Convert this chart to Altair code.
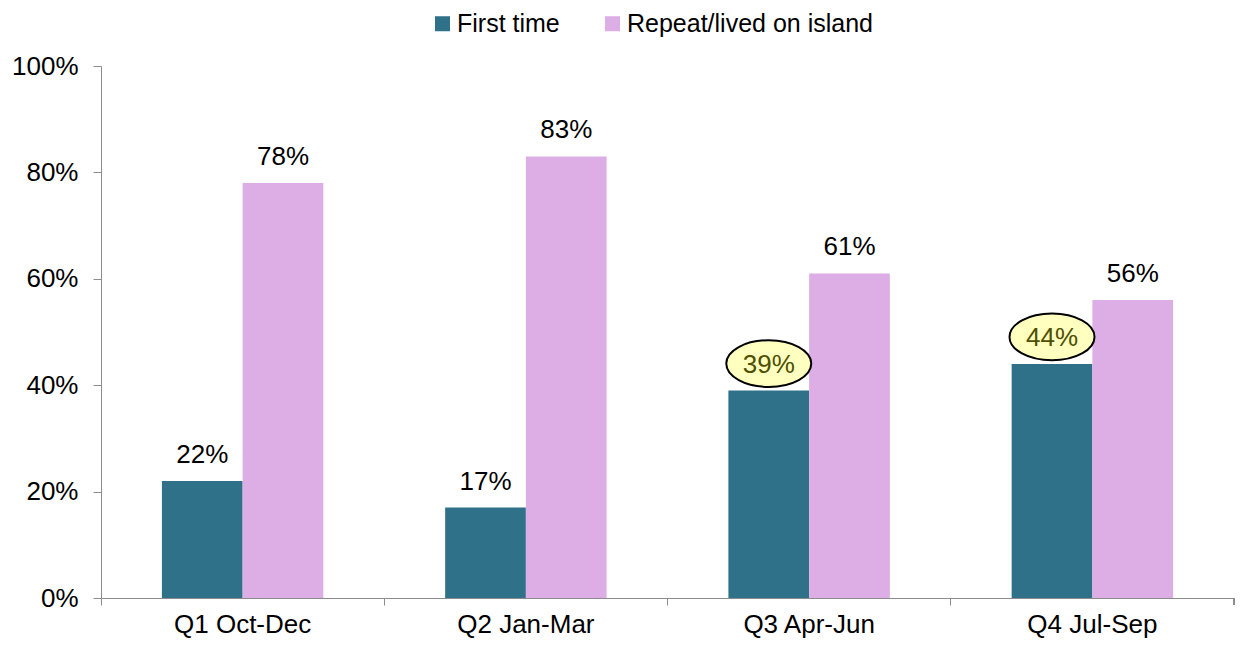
import altair as alt
import pandas as pd

quarters = ["Q1 Oct-Dec", "Q2 Jan-Mar", "Q3 Apr-Jun", "Q4 Jul-Sep"]
first_time = [22, 17, 39, 44]
repeat = [78, 83, 61, 56]
series_names = ["First time", "Repeat/lived on island"]
highlighted = ["Q3 Apr-Jun", "Q4 Jul-Sep"]

rows = []
for q, f, r in zip(quarters, first_time, repeat):
    rows.append({"quarter": q, "series": series_names[0], "value": f / 100,
                 "hl": q in highlighted})
    rows.append({"quarter": q, "series": series_names[1], "value": r / 100,
                 "hl": False})
df = pd.DataFrame(rows)

FONT = "Liberation Sans"
colors = ["#2E7189", "#DDAEE5"]
AXIS_GRAY = "#8C8C8C"
W, H = 1133, 532
P_IN = 0.43

x = alt.X("quarter:N", sort=quarters, title=None,
          scale=alt.Scale(paddingInner=P_IN, paddingOuter=P_IN / 2),
          axis=alt.Axis(labelAngle=0, labelFontSize=26, labelFont=FONT,
                        labelColor="#000", labelPadding=6,
                        domainColor=AXIS_GRAY, tickColor=AXIS_GRAY, tickSize=7,
                        bandPosition=-(P_IN / 2) / (1 - P_IN)))
xo = alt.XOffset("series:N", sort=series_names)
y = alt.Y("value:Q", title=None,
          scale=alt.Scale(domain=[0, 1]),
          axis=alt.Axis(format=".0%", values=[0, 0.2, 0.4, 0.6, 0.8, 1.0],
                        labelFontSize=26, labelFont=FONT, labelColor="#000",
                        labelPadding=15, grid=False,
                        domainColor=AXIS_GRAY, tickColor=AXIS_GRAY, tickSize=8))

bars = alt.Chart(df).mark_bar().encode(
    x=x, xOffset=xo, y=y,
    color=alt.Color("series:N", sort=series_names,
                    scale=alt.Scale(domain=series_names, range=colors),
                    legend=alt.Legend(title=None, orient="none", direction="horizontal",
                                      legendX=329, legendY=-55, padding=0,
                                      labelFontSize=25, labelFont=FONT, labelColor="#000",
                                      labelLimit=0, labelOffset=2,
                                      symbolType="square", symbolSize=225,
                                      symbolStrokeWidth=0, columnPadding=40)),
)

ellipse_path = ("M -1 -0.635 A 1 0.55 0 1 0 1 -0.635 "
                "A 1 0.55 0 1 0 -1 -0.635 Z")

ellipses = alt.Chart(df).transform_filter(alt.datum.hl).mark_point(
    shape=ellipse_path, size=7225, filled=True, fill="#FFFFC0",
    stroke="#000", strokeWidth=2, opacity=1
).encode(x=x, xOffset=xo, y=y)

labels = alt.Chart(df).mark_text(
    dy=-26, fontSize=26, font=FONT, baseline="middle"
).encode(
    x=x, xOffset=xo, y=y,
    text=alt.Text("value:Q", format=".0%"),
    color=alt.condition(alt.datum.hl, alt.value("#4F4F00"), alt.value("#000")),
)

end_tick = alt.Chart(df).mark_rule(color=AXIS_GRAY).encode(
    x=alt.value(W), y=alt.value(H), y2=alt.value(H + 7)
)

chart = alt.layer(bars, ellipses, labels, end_tick).properties(
    width=W, height=H,
    autosize=alt.AutoSizeParams(type="none"),
    padding={"left": 93, "top": 58, "right": 1, "bottom": 44},
).configure(background="white").configure_view(strokeWidth=0)

chart.save("out.html", embed_options={"renderer": "svg", "actions": False})
